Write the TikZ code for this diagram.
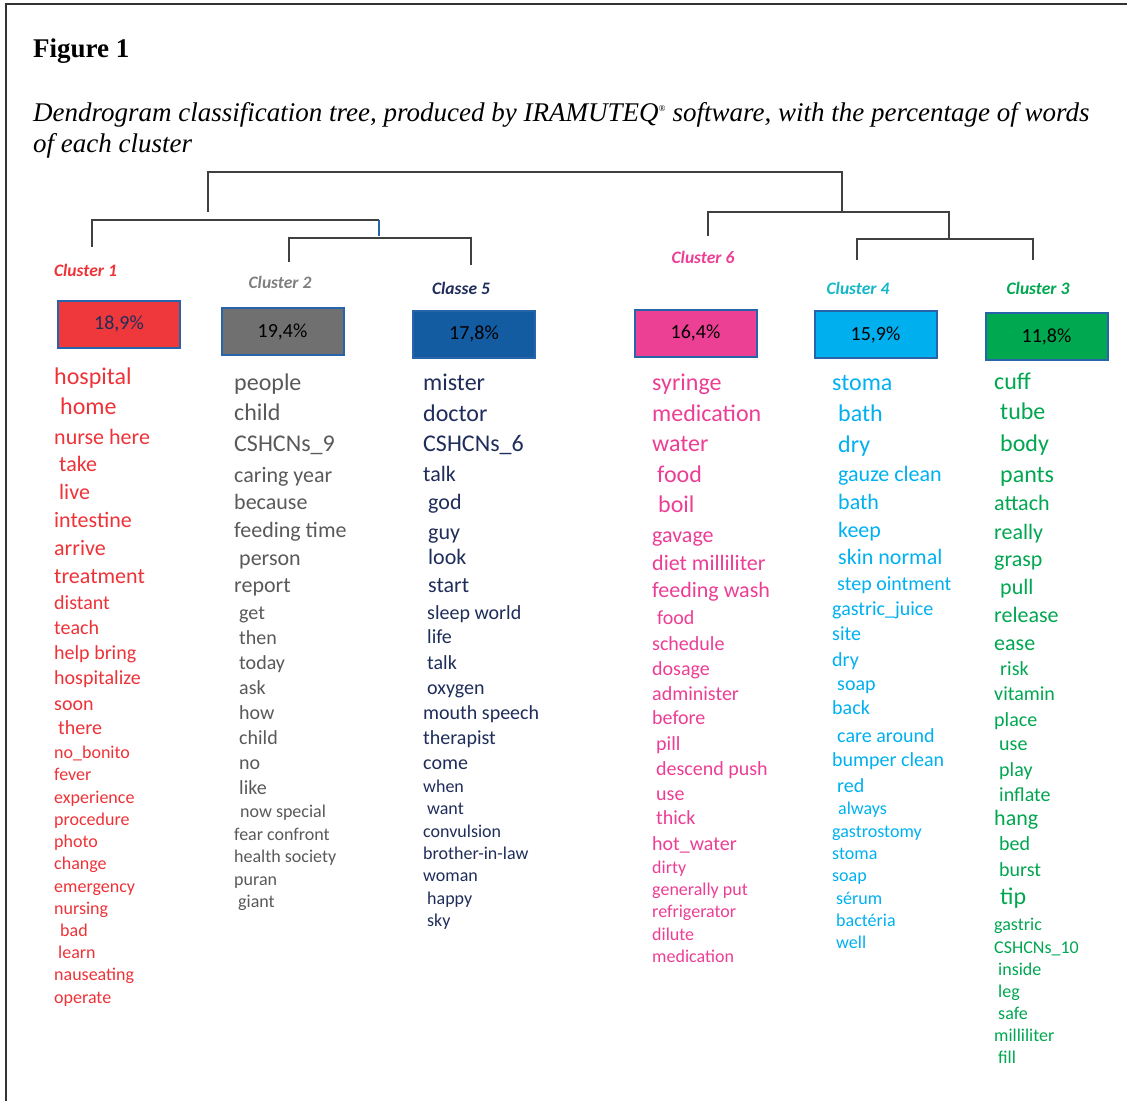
\documentclass[tikz,border=0pt]{standalone}
\usepackage{fontspec}
\setmainfont{Liberation Serif}
\newfontfamily\carl{Carlito}
\newcommand{\fsz}[1]{\fontsize{#1}{#1}\selectfont}
\definecolor{redc}{RGB}{237,50,56}
\definecolor{grayc}{RGB}{89,89,89}
\definecolor{grayl}{RGB}{127,127,127}
\definecolor{navyc}{RGB}{31,45,90}
\definecolor{magc}{RGB}{236,62,148}
\definecolor{cyanc}{RGB}{0,176,240}
\definecolor{teall}{RGB}{20,182,200}
\definecolor{greenc}{RGB}{0,166,80}
\definecolor{boxborder}{RGB}{40,100,170}
\definecolor{b1fill}{RGB}{238,56,60}
\definecolor{b2fill}{RGB}{112,112,112}
\definecolor{b5fill}{RGB}{20,92,162}
\definecolor{b6fill}{RGB}{236,64,148}
\definecolor{b4fill}{RGB}{0,176,238}
\definecolor{b3fill}{RGB}{0,168,80}
\definecolor{dline}{RGB}{64,64,64}
\begin{document}
\begin{tikzpicture}[x=1pt,y=-1pt,
  pbox/.style={draw=boxborder,line width=2pt,minimum width=122pt,minimum height=47pt,inner sep=0,font=\carl\fsz{20}},
  clab/.style={font=\carl\bfseries\itshape\fsz{17.5},inner sep=0},
  dend/.style={draw=dline,line width=1.4pt},
  word/.style={anchor=mid west,inner sep=0}]
\useasboundingbox (0,0) rectangle (1127,1101);
% frame
\draw[line width=1.6pt,draw=black!80] (6,1101) -- (6,4) -- (1127,4);
% title
\node[anchor=base west,inner sep=0,font=\bfseries\fsz{27}] (title) at (33,57) {Figure 1};
\node[anchor=base west,inner sep=0,font=\itshape\fsz{27},align=left] (cap1) at (33,121) {Dendrogram classification tree, produced by IRAMUTEQ\textsuperscript{\fsz{9}\textregistered}\ software, with the percentage of words};
\node[anchor=base west,inner sep=0,font=\itshape\fsz{27}] (cap2) at (33,152) {of each cluster};
% boxes
\node[pbox,fill=b1fill,text=navyc] (b1) at (119,324) {18,9\%};
\node[pbox,fill=b2fill,text=black] (b2) at (282.5,331.5) {19,4\%};
\node[pbox,fill=b5fill,text=black] (b5) at (474,334) {17,8\%};
\node[pbox,fill=b6fill,text=black] (b6) at (695.5,333) {16,4\%};
\node[pbox,fill=b4fill,text=black] (b4) at (875.5,334.5) {15,9\%};
\node[pbox,fill=b3fill,text=black] (b3) at (1046.5,336.5) {11,8\%};
% cluster labels
\node[clab,text=redc] (l1) at (85.5,270) {Cluster 1};
\node[clab,text=grayl] (l2) at (280,282) {Cluster 2};
\node[clab,text=navyc] (l5) at (461,288) {Classe 5};
\node[clab,text=magc] (l6) at (703,257) {Cluster 6};
\node[clab,text=teall] (l4) at (858,288) {Cluster 4};
\node[clab,text=greenc] (l3) at (1038,288) {Cluster 3};
% dendrogram
\coordinate (t1) at (208,212); \coordinate (t2) at (842,212);
\draw[dend] (t1) -- (208,172) -- (842,172) -- (t2);
\coordinate (a1) at (92,247); \coordinate (a2) at (379,236);
\draw[dend] (a1) -- (92,220) -- (379,220);
\draw[draw=boxborder,line width=1.2pt] (379,220) -- (a2);
\coordinate (c2) at (289,262); \coordinate (c5) at (471,265);
\draw[dend] (c2) -- (289,238) -- (471,238) -- (c5);
\coordinate (c6) at (708,236); \coordinate (d1) at (949,238);
\draw[dend] (c6) -- (708,212) -- (949,212) -- (d1);
\coordinate (c4) at (857,260); \coordinate (c3) at (1033,260);
\draw[dend] (c4) -- (857,239) -- (1033,239) -- (c3);
% cluster 1 words
\foreach \dx/\yy/\s/\t [count=\i] in {
0/377/24/hospital, 6/407/24/home, 0/437/22/nurse here, 5/464/22/take, 5/492/22/live,
0/520/22/intestine, 0/548/22/arrive, 0/576/22/treatment, 0/602/20/distant, 0/627/20/teach,
0/652/20/help bring, 0/677/20/hospitalize, 0/703/20/soon, 4/727/20/there, 0/751/18/no\_bonito,
0/773/18/fever, 0/796/18/experience, 0/818/18/procedure, 0/840/18/photo, 0/862/18/change,
0/885/18/emergency, 0/907/18/nursing, 6/929/18/bad, 4/951/18/learn, 0/973/18/nauseating,
0/996/18/operate}
  \node[word,text=redc,font=\carl\fsz{\s}] (w1-\i) at (54+\dx,\yy+5) {\t};
% cluster 2 words
\foreach \dx/\yy/\s/\t [count=\i] in {
0/383/24/people, 0/413/24/child, 0/444/24/CSHCNs\_9, 0/475/22/caring year, 0/502/22/because,
0/530/22/feeding time, 5/558/22/person, 0/585/22/report, 5/612/20/get, 5/637/20/then,
5/662/20/today, 5/687/20/ask, 5/712/20/how, 5/737/20/child, 5/762/20/no, 5/787/20/like,
6/810/18/now special, 0/833/18/fear confront, 0/855/18/health society, 0/878/18/puran, 4/900/18/giant}
  \node[word,text=grayc,font=\carl\fsz{\s}] (w2-\i) at (234+\dx,\yy+5) {\t};
% cluster 5 words
\foreach \dx/\yy/\s/\t [count=\i] in {
0/383/24/mister, 0/414/24/doctor, 0/444/24/CSHCNs\_6, 0/474/22/talk, 5/502/22/god,
5/532/22/guy, 5/557/22/look, 5/585/22/start, 4/612/20/sleep world, 4/636/20/life,
4/662/20/talk, 4/687/20/oxygen, 0/712/20/mouth speech, 0/737/20/therapist, 0/762/20/come,
0/785/18/when, 4/807/18/want, 0/830/18/convulsion, 0/852/18/brother-in-law, 0/874/18/woman,
4/897/18/happy, 4/919/18/sky}
  \node[word,text=navyc,font=\carl\fsz{\s}] (w5-\i) at (423+\dx,\yy+5) {\t};
% cluster 6 words
\foreach \dx/\yy/\s/\t [count=\i] in {
0/383/24/syringe, 0/414/24/medication, 0/444/24/water, 5/475/24/food, 6/505/24/boil,
0/535/22/gavage, 0/563/22/diet milliliter, 0/590/22/feeding wash, 5/617/20/food, 0/643/20/schedule,
0/668/20/dosage, 0/693/20/administer, 0/717/20/before, 4/743/20/pill, 4/768/20/descend push,
4/793/20/use, 4/817/20/thick, 0/843/20/hot\_water, 0/866/18/dirty, 0/888/18/generally put,
0/910/18/refrigerator, 0/933/18/dilute, 0/955/18/medication}
  \node[word,text=magc,font=\carl\fsz{\s}] (w6-\i) at (652+\dx,\yy+5) {\t};
% cluster 4 words
\foreach \dx/\yy/\s/\t [count=\i] in {
0/383/24/stoma, 6/414/24/bath, 6/445/24/dry, 6/474/22/gauze clean, 6/502/22/bath,
6/530/22/keep, 6/557/22/skin normal, 5/583/20/step ointment, 0/608/20/gastric\_juice, 0/633/20/site,
0/659/20/dry, 5/683/20/soap, 0/707/20/back, 5/735/20/care around, 0/759/20/bumper clean,
5/785/20/red, 6/807/18/always, 0/830/18/gastrostomy, 0/852/18/stoma, 0/874/18/soap,
4/897/18/sérum, 4/919/18/bactéria, 4/941/18/well}
  \node[word,text=cyanc,font=\carl\fsz{\s}] (w4-\i) at (832+\dx,\yy+5) {\t};
% cluster 3 words
\foreach \dx/\yy/\s/\t [count=\i] in {
0/382/24/cuff, 6/412/24/tube, 6/444/24/body, 6/475/24/pants, 0/503/22/attach,
0/532/22/really, 0/559/22/grasp, 6/587/22/pull, 0/615/22/release, 0/643/22/ease,
6/668/20/risk, 0/693/20/vitamin, 0/719/20/place, 5/743/20/use, 5/769/20/play,
5/794/20/inflate, 0/818/22/hang, 5/843/20/bed, 5/869/20/burst, 6/897/24/tip,
0/923/18/gastric, 0/946/18/CSHCNs\_10, 4/968/18/inside, 4/990/18/leg, 4/1012/18/safe,
0/1034/18/milliliter, 4/1056/18/fill}
  \node[word,text=greenc,font=\carl\fsz{\s}] (w3-\i) at (994+\dx,\yy+5) {\t};
\end{tikzpicture}
\end{document}
